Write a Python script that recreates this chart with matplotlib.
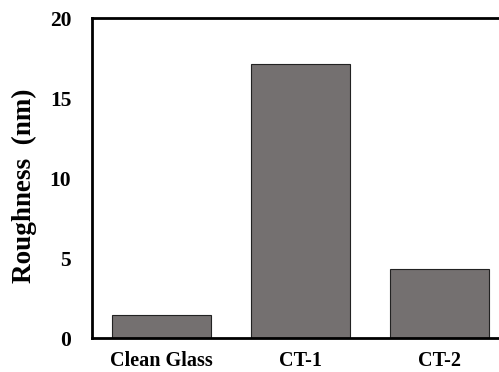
import matplotlib
matplotlib.use("Agg")
from matplotlib import pyplot as plt

samples = ["Clean Glass", "CT-1", "CT-2"]
roughness = [1.45, 17.1, 4.3]
y_ticks = [0, 5, 10, 15, 20]

plt.rcParams["font.family"] = ["Liberation Serif", "DejaVu Serif"]
plt.rcParams["font.weight"] = "bold"

fig = plt.figure(figsize=(4.99, 3.72), dpi=100)
# plot area runs past the right edge of the figure
ax = fig.add_axes([92 / 499, 34 / 372, 417 / 499, 320 / 372])

x = range(len(samples))
ax.bar(x, roughness, width=0.71, color="#747070", edgecolor="#222222", linewidth=0.8)

ax.set_xlim(-0.5, 2.5)
ax.set_ylim(0, 20)
ax.set_yticks(y_ticks)
ax.set_xticks(list(x))
ax.set_xticklabels(samples, fontsize=14.5, fontweight="bold")
ax.set_yticklabels([str(t) for t in y_ticks], fontsize=15.5, fontweight="bold")
ax.tick_params(axis="both", length=0)
ax.tick_params(axis="y", pad=15)
ax.tick_params(axis="x", pad=9)

ax.set_ylabel("Roughness  (nm)", fontsize=19.5, fontweight="bold")
ax.yaxis.set_label_coords(-0.132, 0.475)

for side in ["left", "bottom", "top"]:
    ax.spines[side].set_linewidth(2)
    ax.spines[side].set_color("black")
ax.spines["right"].set_visible(False)

fig.savefig("out.png", dpi=100, facecolor="white")
